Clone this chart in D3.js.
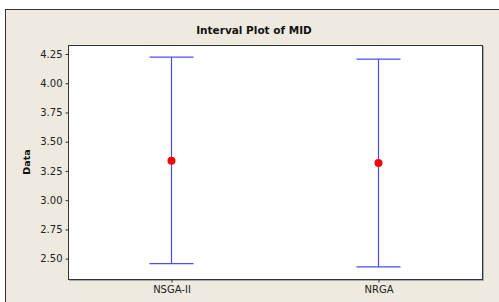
<!DOCTYPE html>
<html>
<head>
<meta charset="utf-8">
<script src="https://cdn.jsdelivr.net/npm/d3@7"></script>
<style>
  body { margin: 0; background: #fff; }
  text { font-family: "DejaVu Sans", Verdana, sans-serif; }
</style>
</head>
<body>
<div id="container"></div>
<script>
/* DATA */
const groups = ["NSGA-II", "NRGA"];
const means = [3.338, 3.318];
const lower = [2.457, 2.429];
const upper = [4.224, 4.207];
const yTicks = [2.50, 2.75, 3.00, 3.25, 3.50, 3.75, 4.00, 4.25];

/* CONSTANTS */
const width = 499, height = 302;
const margin = ({top: 45, right: 17, bottom: 23, left: 68});

const svg = d3.select("#container")
  .append("svg")
  .attr("width", width)
  .attr("height", height);

// outer frame
svg.append("rect")
  .attr("x", 5.5).attr("y", 9.5)
  .attr("width", width).attr("height", height)
  .attr("fill", "#eeeae0")
  .attr("stroke", "#333");

/* SCALES */
const xScale = d3.scalePoint()
  .domain(groups)
  .range([margin.left, width - margin.right])
  .padding(0.5);

const yScale = d3.scaleLinear()
  .domain([2.326, 4.327])
  .range([height - margin.bottom, margin.top]);

// plot area (shadow + box)
svg.append("rect")
  .attr("x", margin.left + 1.5).attr("y", margin.top + 1.5)
  .attr("width", width - margin.left - margin.right)
  .attr("height", height - margin.top - margin.bottom)
  .attr("fill", "none").attr("stroke", "#aaa");
svg.append("rect")
  .attr("x", margin.left + 0.5).attr("y", margin.top + 0.5)
  .attr("width", width - margin.left - margin.right)
  .attr("height", height - margin.top - margin.bottom)
  .attr("fill", "#fff").attr("stroke", "#333");

/* AXES */
const yAxis = d3.axisLeft(yScale)
  .tickValues(yTicks)
  .tickFormat(d3.format(".2f"))
  .tickSize(3).tickPadding(3);
const xAxis = d3.axisBottom(xScale).tickSize(3).tickPadding(3);

const gy = svg.append("g")
  .attr("transform", `translate(${margin.left + 0.5},0)`)
  .call(yAxis);
const gx = svg.append("g")
  .attr("transform", `translate(0,${height - margin.bottom + 0.5})`)
  .call(xAxis);

[gy, gx].forEach(g => {
  g.select(".domain").remove();
  g.selectAll(".tick line").attr("stroke", "#333");
  g.selectAll(".tick text")
    .attr("fill", "#222")
    .style("font-size", "10px");
});

/* INTERVALS */
const capHalf = 22;
const rows = groups.map((g, i) => ({g, mean: means[i], lo: lower[i], hi: upper[i]}));

const iv = svg.append("g").selectAll("g")
  .data(rows)
  .join("g");

iv.append("line")
  .attr("x1", d => xScale(d.g)).attr("x2", d => xScale(d.g))
  .attr("y1", d => yScale(d.hi)).attr("y2", d => yScale(d.lo))
  .attr("stroke", "#4a4aff").attr("stroke-width", 1.2);
["hi", "lo"].forEach(k => {
  iv.append("line")
    .attr("x1", d => xScale(d.g) - capHalf).attr("x2", d => xScale(d.g) + capHalf)
    .attr("y1", d => yScale(d[k])).attr("y2", d => yScale(d[k]))
    .attr("stroke", "#4a4aff").attr("stroke-width", 1.2);
});
iv.append("circle")
  .attr("cx", d => xScale(d.g))
  .attr("cy", d => yScale(d.mean))
  .attr("r", 4)
  .attr("fill", "#ff0000");

/* TEXT */
svg.append("text")
  .attr("x", 254).attr("y", 34)
  .attr("text-anchor", "middle")
  .style("font-size", "10.5px")
  .style("font-weight", "bold")
  .attr("fill", "#111")
  .text("Interval Plot of MID");

svg.append("text")
  .attr("transform", `translate(30,${(margin.top + height - margin.bottom) / 2}) rotate(-90)`)
  .attr("text-anchor", "middle")
  .style("font-size", "9.5px")
  .style("font-weight", "bold")
  .attr("fill", "#111")
  .text("Data");
</script>
</body>
</html>
